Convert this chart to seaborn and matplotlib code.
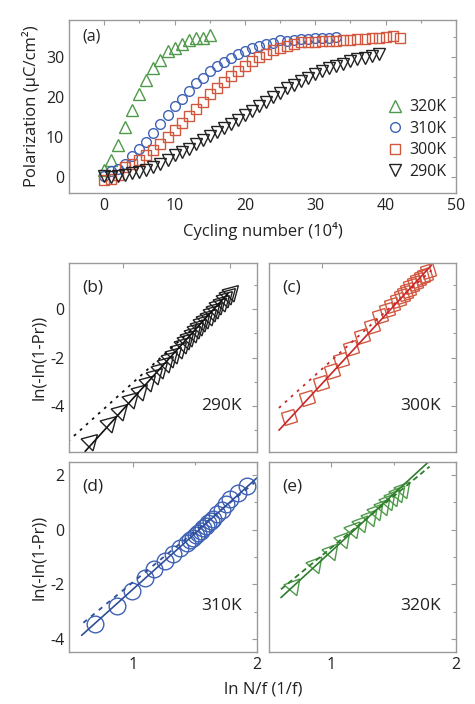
import numpy as np
import pandas as pd
import matplotlib
matplotlib.use("Agg")
import matplotlib.pyplot as plt
import seaborn as sns
from matplotlib.ticker import MultipleLocator, FixedLocator

sns.set_style("white")
plt.rcParams["font.family"] = ["Open Sans", "DejaVu Sans"]
plt.rcParams["axes.unicode_minus"] = False

# ---------------- data: panel (a) ----------------
cyc_320 = list(range(0, 16))
pol_320 = [1.7, 4.2, 7.9, 12.5, 16.7, 20.6, 24.2, 27.1, 29.2, 31.5, 32.1, 33.3, 34.2, 34.6, 34.8, 35.4]
cyc_310 = list(range(0, 34))
pol_310 = [0.3, 1.5, 2.1, 3.3, 5.2, 6.9, 8.75, 11.0, 13.3, 15.6, 17.7, 19.4, 21.5, 23.5, 24.8, 26.5,
           27.7, 28.75, 29.8, 30.7, 31.5, 32.1, 32.75, 33.3, 33.5, 34.2, 34.0, 34.2, 34.4, 34.4,
           34.6, 34.75, 34.6, 35.0]
cyc_300 = list(range(0, 43))
pol_300 = [-0.8, -0.5, 0.5, 2.5, 3.3, 4.2, 5.4, 6.7, 8.3, 10.0, 11.7, 13.5, 15.2, 17.0, 18.75, 20.6,
           22.1, 23.75, 25.2, 26.5, 27.75, 28.9, 30.0, 30.8, 31.7, 32.3, 32.75, 33.2, 33.6, 33.75,
           33.75, 33.9, 34.0, 34.0, 34.2, 34.3, 34.4, 34.5, 34.6, 34.8, 35.0, 35.2, 34.7]
cyc_290 = list(range(0, 40))
pol_290 = [0.2, 0.0, 0.2, 0.5, 0.9, 1.3, 1.7, 2.5, 3.3, 4.3, 5.4, 6.25, 7.1, 8.2, 9.2, 10.2, 11.25,
           12.3, 13.3, 14.3, 15.4, 16.5, 17.7, 18.75, 20.0, 21.0, 22.1, 22.9, 23.9, 24.8, 25.6,
           26.5, 27.1, 27.75, 28.3, 28.9, 29.4, 29.8, 30.2, 30.6]
temps = ["320K", "310K", "300K", "290K"]

# ---------------- data: panels (b)-(e) ----------------
lnN_290 = [0.70, 0.87, 0.975, 1.08, 1.16, 1.24, 1.30, 1.35, 1.40, 1.44, 1.48, 1.52, 1.56, 1.59,
           1.62, 1.65, 1.68, 1.71, 1.74, 1.77, 1.80, 1.83, 1.86, 1.89, 1.92, 1.95, 1.98, 2.01]
lnP_290 = [-5.45, -4.72, -4.20, -3.72, -3.38, -3.02, -2.72, -2.48, -2.24, -2.03, -1.84, -1.64,
           -1.44, -1.29, -1.14, -0.99, -0.84, -0.69, -0.55, -0.41, -0.27, -0.13, 0.01, 0.15,
           0.30, 0.44, 0.58, 0.72]
lnN_300 = [0.687, 0.86, 0.99, 1.086, 1.17, 1.27, 1.366, 1.46, 1.537, 1.60, 1.647, 1.708, 1.74,
           1.77, 1.80, 1.83, 1.865, 1.895, 1.93, 1.958, 1.99]
lnP_300 = [-4.47, -3.67, -3.05, -2.57, -2.09, -1.61, -1.13, -0.71, -0.30, -0.03, 0.18, 0.38,
           0.52, 0.66, 0.80, 0.94, 1.08, 1.21, 1.31, 1.41, 1.58]
lnN_310 = [0.694, 0.869, 0.99, 1.097, 1.172, 1.258, 1.325, 1.379, 1.433, 1.46, 1.487, 1.507,
           1.527, 1.547, 1.567, 1.587, 1.607, 1.628, 1.648, 1.68, 1.715, 1.75, 1.782, 1.85, 1.917]
lnP_310 = [-3.47, -2.80, -2.25, -1.76, -1.45, -1.15, -0.90, -0.68, -0.48, -0.38, -0.29, -0.20,
           -0.11, -0.03, 0.05, 0.14, 0.23, 0.32, 0.41, 0.57, 0.74, 0.93, 1.11, 1.36, 1.60]
lnN_320 = [0.695, 0.868, 1.0, 1.095, 1.175, 1.24, 1.31, 1.36, 1.415, 1.455, 1.495, 1.535, 1.575]
lnP_320 = [-2.06, -1.27, -0.78, -0.35, 0.01, 0.26, 0.47, 0.68, 0.87, 1.05, 1.20, 1.36, 1.48]

# fit lines: (slope, intercept, x_start, x_end)
fit_solid = {"290K": (4.90, -9.06, 0.65, 1.98), "300K": (4.77, -7.83, 0.593, 2.02),
             "310K": (4.08, -6.26, 0.586, 2.0), "320K": (4.20, -4.99, 0.596, 1.788)}
fit_dash = {"290K": (4.00, -7.42, 0.49, 1.98), "300K": (3.98, -6.44, 0.593, 2.02),
            "310K": (3.72, -5.64, 0.60, 1.98), "320K": (3.77, -4.43, 0.596, 1.788)}

col_pts = {"320K": "#4f9a4a", "310K": "#3f62b5", "300K": "#d2573f", "290K": "#222222"}
col_line = {"320K": "#2f7d2c", "310K": "#2f4f9a", "300K": "#c8282a", "290K": "#111111"}
dash_style = {"290K": (1.5, 3.0), "300K": (1.5, 3.0), "310K": (2.5, 3.0), "320K": (3.0, 2.0)}

W, H = 475, 704
fig = plt.figure(figsize=(W / 100, H / 100), dpi=100)

def ax_at(l, t, r, b):
    return fig.add_axes([l / W, 1 - b / H, (r - l) / W, (b - t) / H])

SPINE = "#9a9a9a"
TXT = "#222222"
FS = 11.5

def style(ax):
    for s in ax.spines.values():
        s.set_color(SPINE)
        s.set_linewidth(1.0)
    ax.tick_params(which="both", direction="in", top=True, right=True, colors=SPINE,
                   labelcolor=TXT, labelsize=FS)
    ax.tick_params(which="major", length=3.5, width=0.8)
    ax.tick_params(which="minor", length=2.5, width=0.8)

# ---------------- panel (a) ----------------
axa = ax_at(69, 20, 456, 193)
series_a = [(cyc_320, pol_320, "^", "320K", 8.0), (cyc_310, pol_310, "o", "310K", 7.0),
            (cyc_300, pol_300, "s", "300K", 6.5), (cyc_290, pol_290, "v", "290K", 8.0)]
for xs, ys, mk, lab, ms in series_a:
    df = pd.DataFrame({"x": xs, "y": ys})
    sns.lineplot(data=df, x="x", y="y", ax=axa, linestyle="", marker=mk, markersize=ms,
                 markerfacecolor="none", markeredgecolor=col_pts[lab], markeredgewidth=1.0,
                 color=col_pts[lab], label=lab, sort=False)
axa.set_xlim(-5, 50)
axa.set_ylim(-4, 39.2)
axa.xaxis.set_major_locator(MultipleLocator(10))
axa.xaxis.set_minor_locator(MultipleLocator(5))
axa.yaxis.set_major_locator(MultipleLocator(10))
axa.yaxis.set_minor_locator(MultipleLocator(5))
style(axa)
axa.set_xlabel("Cycling number (10⁴)", fontsize=FS + 0.5, color=TXT, labelpad=6)
axa.set_ylabel("Polarization (μC/cm²)", fontsize=FS + 0.5, color=TXT, labelpad=4)
axa.text(0.035, 0.88, "(a)", transform=axa.transAxes, fontsize=FS, color=TXT)
leg = axa.legend(loc="lower right", frameon=False, fontsize=FS, handletextpad=0.3,
                 borderaxespad=0.2, labelspacing=0.35, handlelength=1.2,
                 bbox_to_anchor=(1.0, 0.02))
for t in leg.get_texts():
    t.set_color(TXT)

# ---------------- panels (b)-(e) ----------------
panels = [
    ("(b)", "290K", lnN_290, lnP_290, (3, 0, 195), 14, (69, 263, 257, 452)),
    ("(c)", "300K", lnN_300, lnP_300, (4, 0, 62), 13, (269, 263, 456, 452)),
    ("(d)", "310K", lnN_310, lnP_310, "o", 12, (69, 462, 257, 652)),
    ("(e)", "320K", lnN_320, lnP_320, (3, 0, 80), 14, (269, 462, 456, 652)),
]
for tag, lab, xs, ys, mk, ms, box in panels:
    ax = ax_at(*box)
    df = pd.DataFrame({"x": xs, "y": ys})
    sns.lineplot(data=df, x="x", y="y", ax=ax, linestyle="", marker=mk, markersize=ms,
                 markerfacecolor="none", markeredgecolor=col_pts[lab], markeredgewidth=1.0,
                 color=col_pts[lab], sort=False)
    k, c, x0, x1 = fit_solid[lab]
    xl = np.array([x0, x1])
    sns.lineplot(x=xl, y=k * xl + c, ax=ax, color=col_line[lab], linewidth=1.2)
    k2, c2, x20, x21 = fit_dash[lab]
    xl2 = np.array([x20, x21])
    sns.lineplot(x=xl2, y=k2 * xl2 + c2, ax=ax, color=col_line[lab], linewidth=1.3,
                 dashes=False, linestyle=(0, dash_style[lab]))
    top = tag in ("(b)", "(c)")
    if top:
        ax.set_xlim(0.5, 2.25)
        ax.set_ylim(-5.9, 1.9)
        ax.xaxis.set_major_locator(FixedLocator([1, 2]))
        ax.set_xticklabels([])
    else:
        ax.set_xlim(0.484 if tag == "(d)" else 0.5, 2.0)
        ax.set_ylim(-4.48, 2.48)
        ax.xaxis.set_major_locator(FixedLocator([1, 2]))
        ax.xaxis.set_minor_locator(FixedLocator([1.5]))
    ax.yaxis.set_major_locator(MultipleLocator(2))
    ax.yaxis.set_minor_locator(MultipleLocator(1))
    style(ax)
    if tag in ("(c)", "(e)"):
        ax.set_yticklabels([])
    ax.set_xlabel("")
    ax.set_ylabel("")
    if tag in ("(b)", "(d)"):
        ax.set_ylabel("ln(-ln(1-Pr))", fontsize=FS + 0.5, color=TXT, labelpad=2)
    ax.text(0.07, 0.85, tag, transform=ax.transAxes, fontsize=FS + 1, color=TXT)
    ax.text(0.92, 0.22, lab, transform=ax.transAxes, fontsize=FS + 1, color=TXT, ha="right")

fig.text(263 / W, 1 - 690 / H, "ln N/f (1/f)", fontsize=FS + 0.5, color=TXT, ha="center",
         va="center")

fig.savefig("out.png", dpi=100)
